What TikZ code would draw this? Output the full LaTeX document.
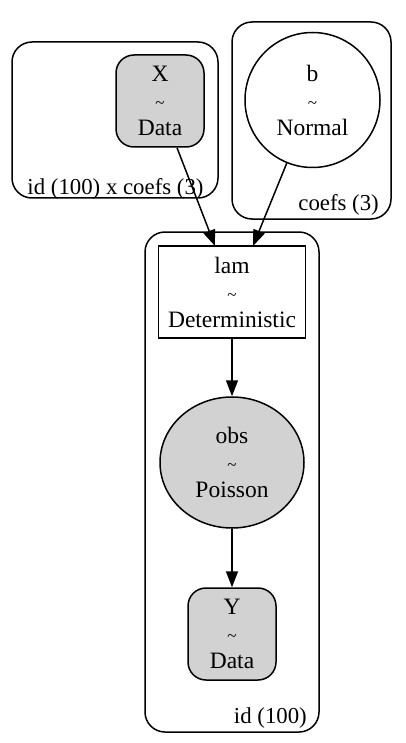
\documentclass[tikz,border=0pt]{standalone}
\usepackage{fontspec}
\setmainfont{Liberation Serif}
\usetikzlibrary{shapes.geometric,arrows.meta}
\begin{document}
\begin{tikzpicture}[x=1pt,y=-1pt,
  every node/.style={font=\fontsize{23.5}{27}\selectfont, align=center, inner sep=0pt},
  plate/.style={draw, line width=1.5pt, rounded corners=20pt},
  datanode/.style={draw, line width=1.5pt, rounded corners=18pt, fill=gray!35, minimum width=88pt, minimum height=92pt},
  rvnode/.style={draw, line width=1.5pt, circle, minimum size=135pt},
  detnode/.style={draw, line width=1.5pt, rectangle, minimum width=147pt, minimum height=92pt},
  obsnode/.style={draw, line width=1.5pt, ellipse, fill=gray!35, minimum width=144pt, minimum height=131pt},
  edge/.style={line width=1.5pt, -{Triangle[length=16pt,width=12pt]}},
  lbl/.style={font=\fontsize{22.8}{27}\selectfont}
]
\newcommand{\tld}{{\fontsize{17}{27}\selectfont\textasciitilde}}
\useasboundingbox (0,0) rectangle (405,743);
% plates
\draw[plate] (12,42) rectangle (218,198);
\draw[plate] (232,22) rectangle (391,219);
\draw[plate] (145,232) rectangle (319,732);
\node[lbl, anchor=base] (lx) at (115.5,195) {id (100) x coefs (3)};
\node[lbl, anchor=base east] (lc) at (379,211) {coefs (3)};
\node[lbl, anchor=base east] (li) at (307,723) {id (100)};
% nodes
\node[datanode] (X) at (160,101) {X\\\tld\\Data};
\node[rvnode] (b) at (312.5,100) {b\\\tld\\Normal};
\node[detnode] (lam) at (232,292) {lam\\\tld\\Deterministic};
\node[obsnode] (obs) at (232,462.5) {obs\\\tld\\Poisson};
\node[datanode] (Y) at (232,634) {Y\\\tld\\Data};
% edges
\coordinate (lamL) at (215,246);
\coordinate (lamR) at (253,246);
\draw[edge] (X.south -| 177,0) -- (lamL);
\draw[edge] (b) -- (lamR);
\draw[edge] (lam) -- (obs);
\draw[edge] (obs) -- (Y);
\end{tikzpicture}
\end{document}
